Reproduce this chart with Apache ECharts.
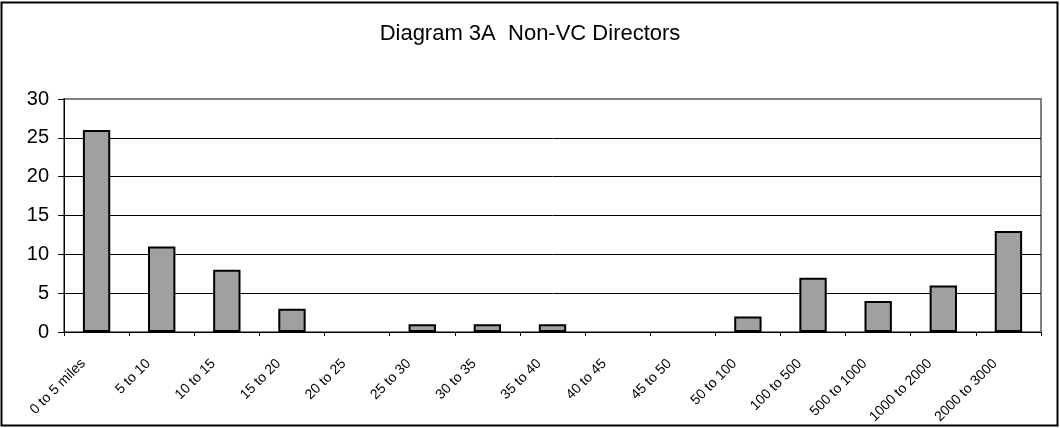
<!DOCTYPE html>
<html>
<head>
	<meta charset="utf-8">
	<title>Diagram 3A</title>
	<script type="text/javascript" src="https://cdn.jsdelivr.net/npm/echarts@6/dist/echarts.min.js"></script>
	<style>
		body { margin: 0; background: #fff; }
	</style>
</head>
<body>
	<div style="height: 428px; width: 1060px" id="chart"></div>

	<script type="text/javascript">
		// distance bands
		var categories = ['0 to 5 miles', '5 to 10', '10 to 15', '15 to 20', '20 to 25', '25 to 30', '30 to 35',
			'35 to 40', '40 to 45', '45 to 50', '50 to 100', '100 to 500', '500 to 1000', '1000 to 2000', '2000 to 3000'];
		var counts = [26, 11, 8, 3, 0, 1, 1, 1, 0, 0, 2, 7, 4, 6, 13];
		var yTicks = [0, 5, 10, 15, 20, 25, 30];

		var chart = echarts.init(document.getElementById('chart'));
		var font = '"Liberation Sans", Arial, sans-serif';

		// empty bands get no bar at all
		var barData = counts.map(function (v) { return v === 0 ? '-' : v; });

		var option = {
			animation: false,
			backgroundColor: '#fff',
			title: {
				text: 'Diagram 3A  Non-VC Directors',
				left: 'center',
				top: 18,
				textStyle: { fontFamily: font, fontSize: 22, fontWeight: 'normal', color: '#000' }
			},
			graphic: [{
				type: 'rect',
				shape: { x: 1.5, y: 2.5, width: 1056, height: 423 },
				style: { fill: 'none', stroke: '#000', lineWidth: 2 },
				silent: true
			}],
			grid: {
				left: 64, right: 19, top: 99, bottom: 96,
				show: true,
				borderColor: '#808080',
				borderWidth: 2
			},
			xAxis: {
				type: 'category',
				data: categories,
				axisLine: { lineStyle: { color: '#000', width: 1 } },
				axisTick: { show: true, length: 4, lineStyle: { color: '#000' } },
				axisLabel: {
					rotate: 45, fontFamily: font, fontSize: 14, color: '#000',
					margin: 16, interval: 0, padding: [0, 19, 0, 0]
				}
			},
			yAxis: {
				type: 'value',
				min: yTicks[0],
				max: yTicks[yTicks.length - 1],
				interval: 5,
				axisLine: { show: true, lineStyle: { color: '#000', width: 1 } },
				axisTick: { show: true, length: 6, lineStyle: { color: '#000' } },
				axisLabel: { fontFamily: font, fontSize: 20, color: '#000', margin: 15 },
				splitLine: { lineStyle: { color: ['#000', '#000', '#000', '#000', '#000', '#000', '#808080'], width: 1 } }
			},
			series: [{
				type: 'bar',
				data: barData,
				barWidth: '42%',
				itemStyle: { color: '#a0a0a0', borderColor: '#000', borderWidth: 2 }
			}]
		};

		chart.setOption(option);
	</script>
</body>
</html>
